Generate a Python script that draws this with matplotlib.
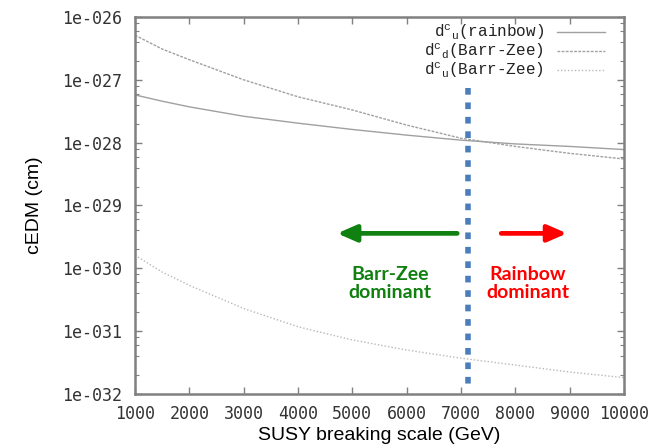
import numpy as np
import matplotlib
matplotlib.use('Agg')
import matplotlib.pyplot as plt
from matplotlib.ticker import LogLocator, FixedLocator, NullFormatter

# SUSY breaking scale (GeV)
scale = [1000, 1500, 2000, 3000, 4000, 5000, 6000, 7000, 8000, 9000, 10000]
# log10 of cEDM (cm)
log_rainbow_u = [-27.24, -27.34, -27.43, -27.58, -27.69, -27.79, -27.88, -27.96, -28.02, -28.06, -28.11]
log_barrzee_d = [-26.29, -26.51, -26.68, -27.00, -27.27, -27.48, -27.72, -27.93, -28.06, -28.17, -28.26]
log_barrzee_u = [-29.79, -30.06, -30.27, -30.64, -30.93, -31.14, -31.30, -31.43, -31.54, -31.65, -31.74]

crossover = 7130
xticks = [1000, 2000, 3000, 4000, 5000, 6000, 7000, 8000, 9000, 10000]
yticks = [1e-26, 1e-27, 1e-28, 1e-29, 1e-30, 1e-31, 1e-32]
ytick_labels = ['1e-026', '1e-027', '1e-028', '1e-029', '1e-030', '1e-031', '1e-032']

legend_labels = ['d$^{c}$$_{u}$(rainbow)',
                 'd$^{c}$$_{d}$(Barr-Zee)',
                 'd$^{c}$$_{u}$(Barr-Zee)']

mono = 'Liberation Mono'
plt.rcParams['mathtext.fontset'] = 'custom'
plt.rcParams['mathtext.rm'] = mono
plt.rcParams['mathtext.it'] = mono
plt.rcParams['mathtext.default'] = 'rm'

fig = plt.figure(figsize=(6.71, 4.46), dpi=100)
ax = fig.add_axes([0.2012, 0.1166, 0.7288, 0.8453])

grey = '#a0a0a0'
styles = [dict(color=grey, lw=1.0, ls='-'),
          dict(color=grey, lw=1.0, ls=(0, (2, 1))),
          dict(color='#b8b8b8', lw=1.0, ls=(0, (1, 1.5)))]

for vals, st in zip([log_rainbow_u, log_barrzee_d, log_barrzee_u], styles):
    ax.plot(scale, 10 ** np.array(vals), **st)

ax.set_yscale('log')
ax.set_xlim(1000, 10000)
ax.set_ylim(1e-32, 1e-26)

ax.xaxis.set_major_locator(FixedLocator(xticks))
ax.set_xticklabels([str(t) for t in xticks], family='DejaVu Sans Mono', fontsize=12, color='#333333')
ax.yaxis.set_major_locator(FixedLocator(yticks))
ax.set_yticklabels(ytick_labels, family='DejaVu Sans Mono', fontsize=12, color='#333333')
ax.yaxis.set_minor_locator(LogLocator(base=10, subs=[2, 4, 6, 8]))
ax.yaxis.set_minor_formatter(NullFormatter())

ax.tick_params(which='both', direction='in', top=True, right=True, color='#808080')
ax.tick_params(which='major', length=5, width=1)
ax.tick_params(which='minor', length=3, width=0.8)
ax.tick_params(axis='x', pad=8)
ax.tick_params(axis='y', pad=9)
for s in ax.spines.values():
    s.set_color('#808080')
    s.set_linewidth(1.8)

ax.set_ylabel('cEDM (cm)', family='Liberation Sans', fontsize=14, labelpad=14)
ax.set_xlabel('SUSY breaking scale (GeV)', family='Liberation Sans', fontsize=14, labelpad=3)

# legend drawn by hand, gnuplot style (pixel positions -> axes fraction)
def fx(px):
    return (px - 135) / 489.0

def fy(py):
    return (394 - py) / 377.0

baselines = [37, 56, 75]
for i, lab in enumerate(legend_labels):
    b = baselines[i]
    ax.text(fx(544), fy(b), lab, transform=ax.transAxes, family=mono, fontsize=11.5,
            va='baseline', ha='right', color='#222222')
    ly = fy(b - 5)
    ax.plot([fx(557), fx(605)], [ly, ly], transform=ax.transAxes, clip_on=False, **styles[i])

# crossover marker
ax.plot([crossover, crossover], [7.4e-28, 1.2e-32], color='#4a7ebb', lw=4,
        ls=(0, (1.2, 1.4)), solid_capstyle='butt', dash_capstyle='butt')

# dominance arrows
ay = 3.6e-30
ax.annotate('', xy=(4720, ay), xytext=(6930, ay),
            arrowprops=dict(arrowstyle='-|>,head_length=1.15,head_width=0.5',
                            color='#108010', lw=3.4, shrinkA=0, shrinkB=0))
ax.annotate('', xy=(8950, ay), xytext=(7740, ay),
            arrowprops=dict(arrowstyle='-|>,head_length=1.15,head_width=0.5',
                            color='#ff0000', lw=3.4, shrinkA=0, shrinkB=0))
ax.text(5693, 5.8e-31, 'Barr-Zee\ndominant', color='#108010', family='Lato',
        weight='bold', fontsize=14, ha='center', va='center', linespacing=1.05)
ax.text(8225, 5.8e-31, 'Rainbow\ndominant', color='#ff0000', family='Lato',
        weight='bold', fontsize=14, ha='center', va='center', linespacing=1.05)

fig.savefig('out.png', dpi=100)
